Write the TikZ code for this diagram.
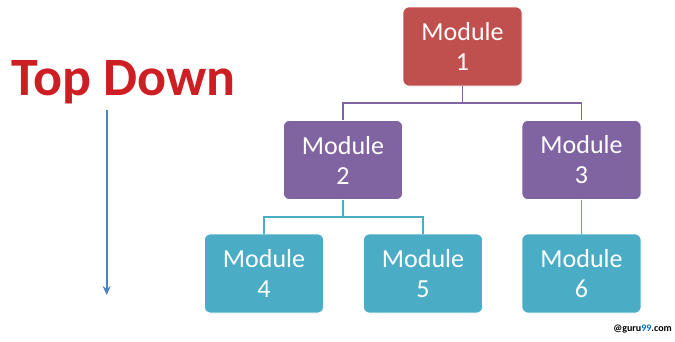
\documentclass[tikz,border=0pt]{standalone}
\usepackage{fontspec}
\setmainfont{Carlito}
\usetikzlibrary{arrows.meta}
\definecolor{mred}{RGB}{192,80,77}
\definecolor{mpurple}{RGB}{128,100,162}
\definecolor{mteal}{RGB}{75,172,198}
\definecolor{arrowblue}{RGB}{79,129,189}
\definecolor{tdred}{RGB}{205,30,35}
\definecolor{gblue}{RGB}{0,112,220}
\tikzset{
  modbox/.style={rounded corners=6pt, minimum width=119pt, minimum height=79pt,
    inner sep=0pt, text=white, align=center, draw=white, line width=0.6pt,
    font=\fontsize{26}{30}\selectfont},
  redbox/.style={modbox, fill=mred},
  purplebox/.style={modbox, fill=mpurple},
  tealbox/.style={modbox, fill=mteal},
  purpleline/.style={draw=mpurple, line width=1.8pt},
  tealline/.style={draw=mteal, line width=1.8pt},
}
\begin{document}
\begin{tikzpicture}[x=1pt,y=-1pt]
\useasboundingbox (0,0) rectangle (675,341);
\node[redbox] (m1) at (462.5,46.5) {Module\\1};
\node[purplebox] (m2) at (343,160) {Module\\2};
\node[purplebox] (m3) at (581.5,160) {Module\\3};
\node[tealbox] (m4) at (264,273.5) {Module\\4};
\node[tealbox] (m5) at (423,273.5) {Module\\5};
\node[tealbox] (m6) at (581.5,273.5) {Module\\6};
\draw[purpleline] (m1.south) -- ++(0,17) coordinate (j1) -| (m2.north);
\draw[purpleline] (j1) -| (m3.north);
\draw[tealline] (m2.south) -- ++(0,17) coordinate (j2) -| (m4.north);
\draw[tealline] (j2) -| (m5.north);
\draw[tealline] (m3.south) -- (m6.north);
\node[anchor=base, text=tdred, font=\bfseries\fontsize{54}{60}\selectfont, inner sep=0pt] (td) at (123.5,95) {Top Down};
\coordinate (a1) at (106.7,110);
\coordinate (a2) at (106.7,295);
\draw[arrowblue, line width=2pt, -{Stealth[length=9pt,width=8pt]}] (a1) -- (a2);
\node[anchor=base east, inner sep=0pt, font=\bfseries\fontsize{10}{12}\selectfont] (wm) at (672,331) {@guru\textcolor{gblue}{99}.com};
\end{tikzpicture}
\end{document}
